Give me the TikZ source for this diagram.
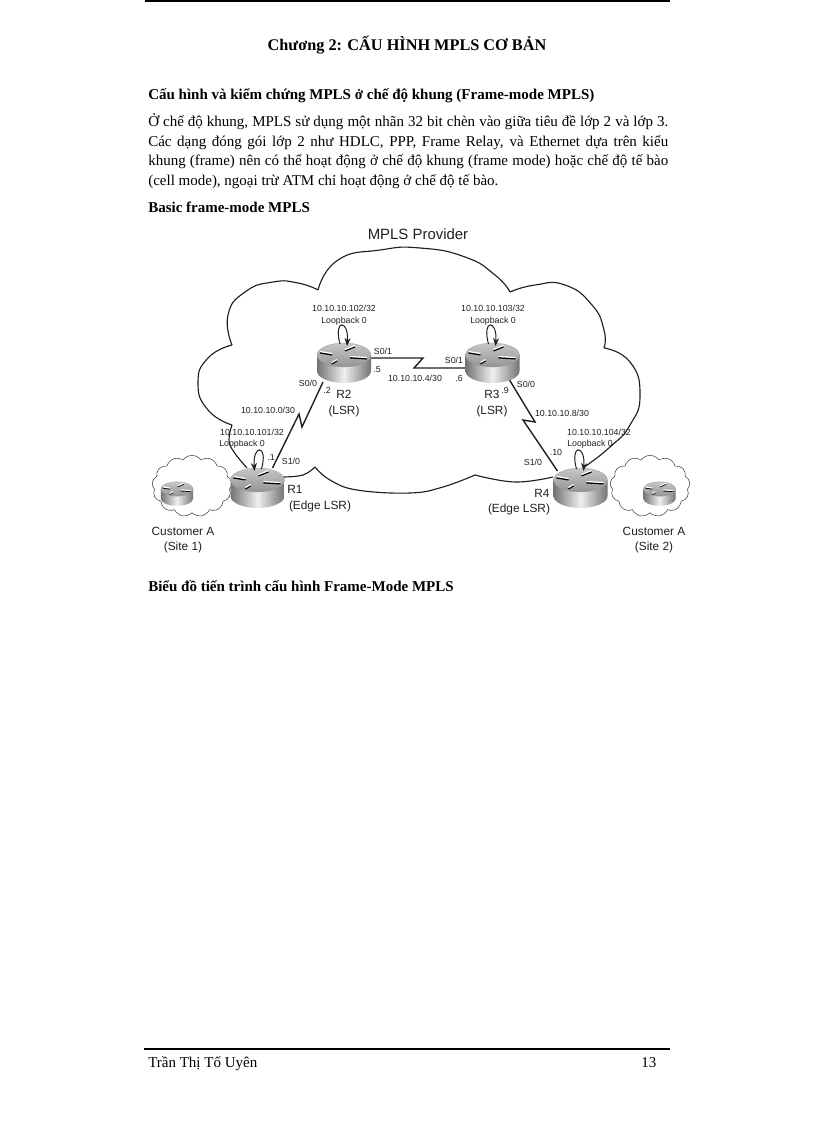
\documentclass[tikz,border=0pt]{standalone}
\usepackage{fontspec}
\setmainfont{Liberation Serif}
\setsansfont{Liberation Sans}
\usetikzlibrary{calc,shapes.symbols,arrows.meta}
\definecolor{ink}{gray}{0.12}
\tikzset{
  x=0.75pt,y=-0.75pt,
  txt/.style={anchor=base west,inner sep=0pt,text=black,font=\fontsize{11.25}{14}\selectfont},
  hd/.style={anchor=base west,inner sep=0pt,text=black,font=\fontsize{11.25}{14}\selectfont\bfseries},
  ttl/.style={anchor=base,inner sep=0pt,text=black,font=\fontsize{12.2}{14}\selectfont\bfseries},
  lbs/.style={inner sep=0pt,text=ink,font=\fontsize{6.6}{8}\selectfont\sffamily},
  lbm/.style={inner sep=0pt,text=ink,font=\fontsize{8.9}{10}\selectfont\sffamily},
  lbl/.style={inner sep=0pt,text=ink,font=\fontsize{11.2}{13}\selectfont\sffamily},
  rnode/.style={inner sep=0pt,minimum width=40pt,minimum height=30pt},
  rule/.style={line width=0.9pt,black},
  cloudline/.style={line width=0.85pt,ink,line join=round},
  link/.style={line width=1.05pt,ink,line join=miter},
  loopline/.style={line width=0.75pt,ink,-{Stealth[length=6pt,width=4.5pt]}},
  custcloud/.style={cloud,cloud puffs=13,cloud puff arc=110,draw=ink!85,line width=0.4pt,minimum width=60pt,minimum height=46pt,inner sep=0pt,aspect=1.3},
  router/.pic={
    \shade[left color=black!55,right color=black!55,middle color=black!6]
      (-27,0) -- (-27,16) .. controls (-27,22.6) and (-15,28) .. (0,28)
      .. controls (15,28) and (27,22.6) .. (27,16) -- (27,0) -- cycle;
    \shade[top color=black!22,bottom color=black!42,draw=black!40,line width=0.2pt] (0,0) ellipse [x radius=27,y radius=12];
    \foreach \a/\b/\c/\d in {-24/-3/-12/-1,1/-5/11/-9,-7/5/-12/8,6/2/23/3}{
      \draw[black,line width=1.1pt] (\a,\b+0.8) -- (\c,\d+0.8);
      \draw[white,line width=0.9pt] (\a,\b-0.5) -- (\c,\d-0.5);
    }
  }
}
\newcommand{\loopb}[2]{\draw[loopline] ($(#1)+(#2*-4,-11)$) .. controls ($(#1)+(#2*-11,-36)$) and ($(#1)+(#2*5,-36)$) .. ($(#1)+(#2*3,-9)$);}
\begin{document}
\begin{tikzpicture}
\useasboundingbox (0,0) rectangle (816,1123);
% page rules
\coordinate (topL) at (145,1); \coordinate (topR) at (670,1);
\coordinate (botL) at (144,1049); \coordinate (botR) at (670,1049);
\draw[rule] (topL) -- (topR);
\draw[rule] (botL) -- (botR);
% text
\node[ttl] (title) at (407,51) {Chương 2: CẤU HÌNH MPLS CƠ BẢN};
\node[hd] (h1) at (148,100) {Cấu hình và kiểm chứng MPLS ở chế độ khung (Frame-mode MPLS)};
\node[txt] (p1) at (148,127) {\makebox[390pt][s]{Ở chế độ khung, MPLS sử dụng một nhãn 32 bit chèn vào giữa tiêu đề lớp 2 và lớp 3.}};
\node[txt] (p2) at (148,147) {\makebox[390pt][s]{Các dạng đóng gói lớp 2 như HDLC, PPP, Frame Relay, và Ethernet dựa trên kiểu}};
\node[txt] (p3) at (148,166) {\makebox[390pt][s]{khung (frame) nên có thể hoạt động ở chế độ khung (frame mode) hoặc chế độ tế bào}};
\node[txt] (p4) at (148,186) {(cell mode), ngoại trừ ATM chỉ hoạt động ở chế độ tế bào.};
\node[hd] (h2) at (148,213) {Basic frame-mode MPLS};
\node[hd] (h3) at (148,591) {Biểu đồ tiến trình cấu hình Frame-Mode MPLS};
\node[txt] (foot) at (148,1067) {Trần Thị Tố Uyên};
\node[txt] (pg) at (641,1067) {13};
% router anchors (centre of top ellipse)
\node[rnode] (r1) at (257.5,480) {};
\node[rnode] (r2) at (344,355) {};
\node[rnode] (r3) at (492.5,355) {};
\node[rnode] (r4) at (580.5,480) {};
\node[rnode,minimum width=24pt,minimum height=16pt] (c1) at (177,489) {};
\node[rnode,minimum width=24pt,minimum height=16pt] (c2) at (659.5,489) {};
% provider cloud
\draw[cloudline]
  plot[smooth,tension=0.75] coordinates {(247,468) (234,452) (229,440) (232,425)}
  plot[smooth,tension=0.9] coordinates {(232,425) (208,410) (198,383) (208,358) (232,345)}
  plot[smooth,tension=0.9] coordinates {(232,345) (228,315) (245,292) (273,282) (298,283) (318,290)}
  plot[smooth,tension=0.9] coordinates {(318,290) (338,260) (380,250) (420,248) (465,257) (495,275) (510,292)}
  plot[smooth,tension=0.9] coordinates {(510,292) (535,285) (565,285) (592,305) (604,330) (604,348)}
  plot[smooth,tension=0.9] coordinates {(604,348) (630,362) (640,395) (630,425) (610,447) (583,468)}
  plot[smooth,tension=0.7] coordinates {(553,477) (515,482) (475,475)}
  plot[smooth,tension=0.7] coordinates {(475,475) (443,487) (410,493) (357,490) (330,480) (315,467)}
  plot[smooth,tension=0.7] coordinates {(315,467) (303,475) (283,477)};
% customer clouds
\node[custcloud] (s1) at (192,486) {};
\node[custcloud] (s2) at (650,486) {};
% links
\coordinate (z1a) at (299,414); \coordinate (z1b) at (302,427);
\coordinate (z2a) at (423,358); \coordinate (z2b) at (414,368);
\coordinate (z3a) at (535,422); \coordinate (z3b) at (523,420);
\draw[link] ($(r1)+(15,-12)$) -- (z1a) -- (z1b) -- ($(r2)+(-21,27)$);
\draw[link] ($(r2)+(26,3)$) -- (z2a) -- (z2b) -- ($(r3)+(-26,13)$);
\draw[link] ($(r3)+(17,25)$) -- (z3a) -- (z3b) -- ($(r4)+(-23,-9)$);
% routers
\pic at (r1) {router};
\pic at (r2) {router};
\pic at (r3) {router};
\pic at (r4) {router};
\pic[scale=0.6] at (c1) {router};
\pic[scale=0.6] at (c2) {router};
\loopb{r1}{-1}
\loopb{r2}{1}
\loopb{r3}{1}
\loopb{r4}{1}
% labels
\node[lbl] (tmp) at (418,234) {MPLS Provider};
\node[lbs] (a2) at (344,308) {10.10.10.102/32};
\node[lbs] (b2) at (344,321) {Loopback 0};
\node[lbs] (a3) at (493,308) {10.10.10.103/32};
\node[lbs] (b3) at (493,321) {Loopback 0};
\node[lbs] (a1) at (252,432) {10.10.10.101/32};
\node[lbs] (b1) at (242,444) {Loopback 0};
\node[lbs] (a4) at (599,432) {10.10.10.104/32};
\node[lbs] (b4) at (590,444) {Loopback 0};
\node[lbs] (i1) at (383,351) {S0/1};
\node[lbs] (i2) at (377,370) {.5};
\node[lbs] (n1) at (415,378) {10.10.10.4/30};
\node[lbs] (i3) at (454,360) {S0/1};
\node[lbs] (i4) at (459,378) {.6};
\node[lbs] (i5) at (308,383) {S0/0};
\node[lbs] (i6) at (327,390) {.2};
\node[lbs] (i7) at (505,390) {.9};
\node[lbs] (i8) at (526,384) {S0/0};
\node[lbs] (n2) at (562,413) {10.10.10.8/30};
\node[lbs] (n3) at (268,410) {10.10.10.0/30};
\node[lbs] (i9) at (556,452) {.10};
\node[lbs] (i10) at (533,462) {S1/0};
\node[lbs] (i11) at (271,457) {.1};
\node[lbs] (i12) at (291,461) {S1/0};
\node[lbm] (t2) at (344,394) {R2};
\node[lbm] (u2) at (344,411) {(LSR)};
\node[lbm] (t3) at (492,394) {R3};
\node[lbm] (u3) at (492,411) {(LSR)};
\node[lbm] (t1) at (295,489) {R1};
\node[lbm] (u1) at (320,506) {(Edge LSR)};
\node[lbm] (t4) at (542,493) {R4};
\node[lbm] (u4) at (519,509) {(Edge LSR)};
\node[lbm] (k1) at (183,531) {Customer A};
\node[lbm] (k2) at (183,547) {(Site 1)};
\node[lbm] (k3) at (654,531) {Customer A};
\node[lbm] (k4) at (654,547) {(Site 2)};
\end{tikzpicture}
\end{document}
